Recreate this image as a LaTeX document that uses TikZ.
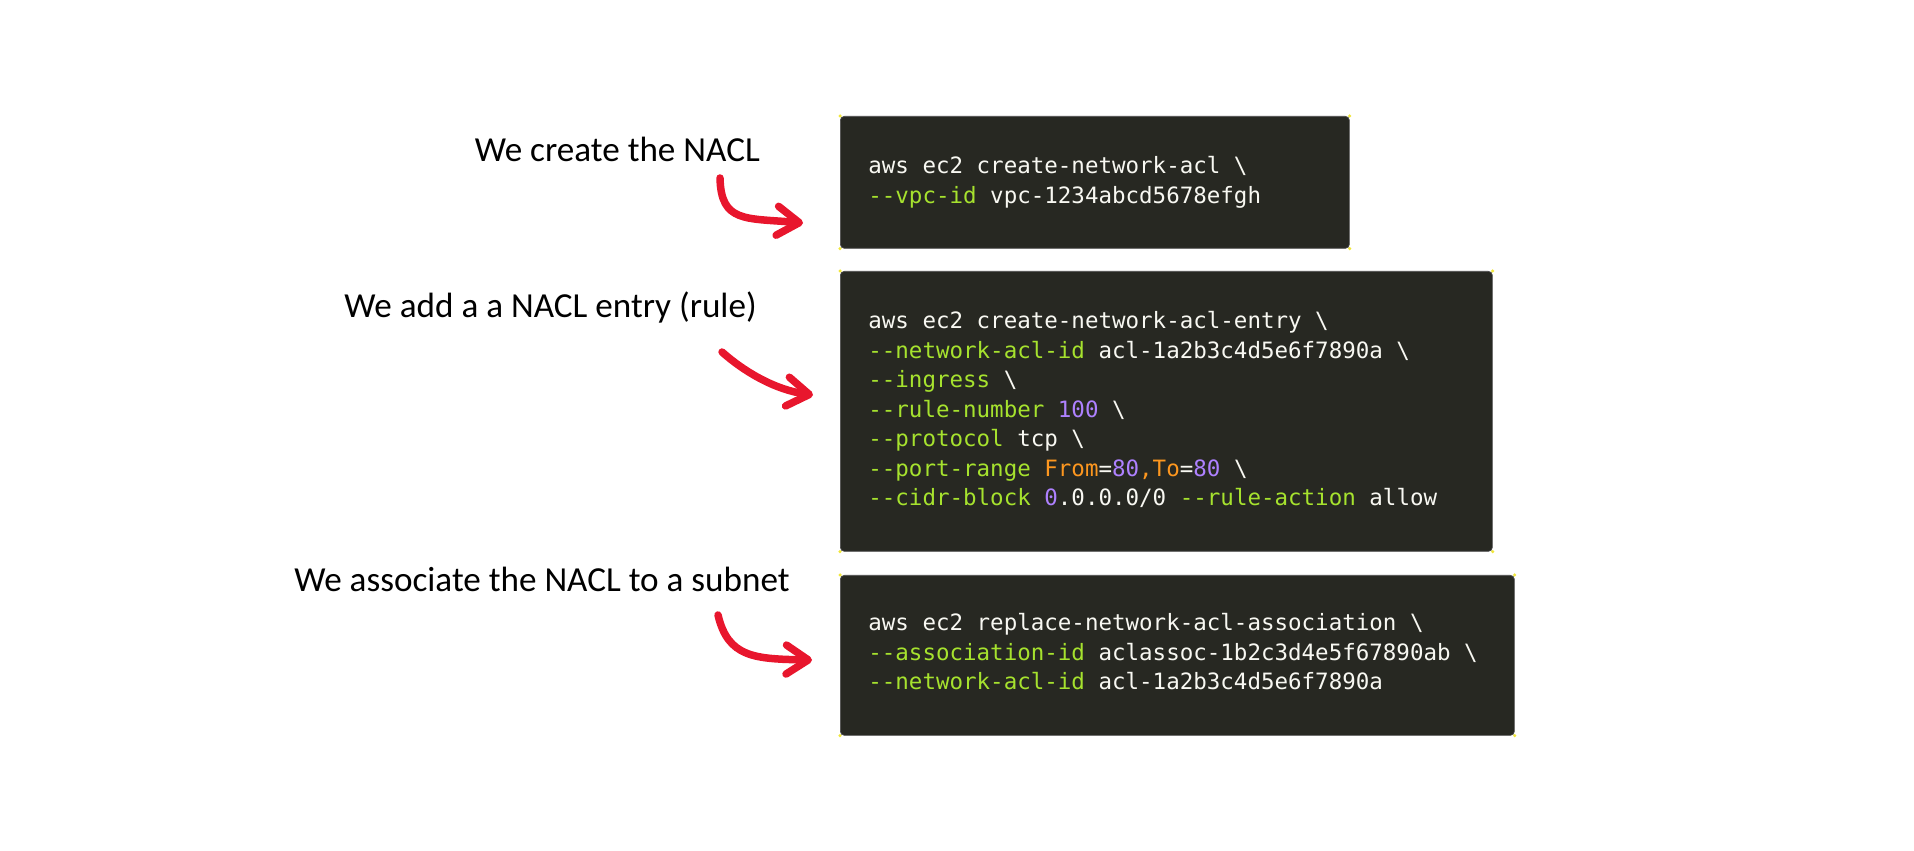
\documentclass[tikz,border=0pt]{standalone}
\usepackage{fontspec}
\setmainfont{Carlito}
\newfontfamily\codefont{DejaVu Sans Mono}
\usetikzlibrary{arrows.meta}
\definecolor{codebg}{HTML}{272822}
\definecolor{codefg}{HTML}{F8F8F2}
\definecolor{optgreen}{HTML}{A6E22E}
\definecolor{numpurple}{HTML}{AE81FF}
\definecolor{kworange}{HTML}{FD971F}
\definecolor{hookred}{RGB}{232,22,45}
\definecolor{handle}{RGB}{240,230,60}
\newcommand{\opt}[1]{\textcolor{optgreen}{#1}}
\newcommand{\nval}[1]{\textcolor{numpurple}{#1}}
\newcommand{\kwd}[1]{\textcolor{kworange}{#1}}
\newcommand{\bsl}{\textbackslash}
\tikzset{note/.style={font=\fontsize{20}{24}\selectfont, anchor=base east, inner sep=0pt},
         codebox/.style={fill=codebg, draw=black!70, line width=0.4pt, rounded corners=0.08cm, anchor=north west, inner sep=0pt},
         codeline/.style={font=\codefont\fontsize{12.8}{15}\selectfont, text=codefg, anchor=base west, inner sep=0pt},
         hook/.style={hookred, line width=0.15cm, line cap=round, -{Straight Barb[length=0.44cm, width=0.58cm, round]}}}

\begin{document}
\begin{tikzpicture}
   \useasboundingbox (0,0) rectangle (38.28,17);
   \begin{scope}
    \node[note] (n1) at (15.20,13.76) {We create the NACL};
    \node[note] (n2) at (15.14,10.64) {We add a a NACL entry (rule)};
    \node[note] (n3) at (15.80, 5.16) {We associate the NACL to a subnet};
   \end{scope}
   \begin{scope}
    \node[codebox, minimum width=10.18cm, minimum height=2.64cm] (box1) at (16.8,14.68) {};
    \node[codebox, minimum width=13.04cm, minimum height=5.60cm] (box2) at (16.8,11.58) {};
    \node[codebox, minimum width=13.48cm, minimum height=3.20cm] (box3) at (16.8, 5.50) {};
    \foreach \b in {box1,box2,box3}
      \foreach \c in {north west,north east,south west,south east}
        \fill[handle] (\b.\c) circle (0.035);
   \end{scope}
   \begin{scope}
    \foreach \txt [count=\i] in {{aws ec2 create-network-acl \bsl},
                                 {\opt{--vpc-id} vpc-1234abcd5678efgh}}
      \node[codeline] (c1-\i) at (17.36,14.11-0.59*\i) {\txt};
    \foreach \txt [count=\i] in {{aws ec2 create-network-acl-entry \bsl},
                                 {\opt{--network-acl-id} acl-1a2b3c4d5e6f7890a \bsl},
                                 {\opt{--ingress} \bsl},
                                 {\opt{--rule-number} \nval{100} \bsl},
                                 {\opt{--protocol} tcp \bsl},
                                 {\opt{--port-range} \kwd{From}=\nval{80}\kwd{,To}=\nval{80} \bsl},
                                 {\opt{--cidr-block} \nval{0}.0.0.0/0 \opt{--rule-action} allow}}
      \node[codeline] (c2-\i) at (17.36,11.01-0.59*\i) {\txt};
    \foreach \txt [count=\i] in {{aws ec2 replace-network-acl-association \bsl},
                                 {\opt{--association-id} aclassoc-1b2c3d4e5f67890ab \bsl},
                                 {\opt{--network-acl-id} acl-1a2b3c4d5e6f7890a}}
      \node[codeline] (c3-\i) at (17.36, 4.97-0.59*\i) {\txt};
   \end{scope}
   \begin{scope}
    \coordinate (s1) at (14.40,13.44);
    \coordinate (t1) at (16.06,12.54);
    \coordinate (s2) at (14.44, 9.96);
    \coordinate (t2) at (16.26, 9.10);
    \coordinate (s3) at (14.36, 4.70);
    \coordinate (t3) at (16.24, 3.80);
    \draw[hook] (s1) .. controls +(0.02,-0.90) and +(-1.15,0.10) .. (t1);
    \draw[hook] (s2) .. controls +(0.45,-0.40) and +(-0.75,0.10) .. (t2);
    \draw[hook] (s3) .. controls +(0.20,-0.85) and +(-1.15,0.02) .. (t3);
   \end{scope}
\end{tikzpicture}
\end{document}
